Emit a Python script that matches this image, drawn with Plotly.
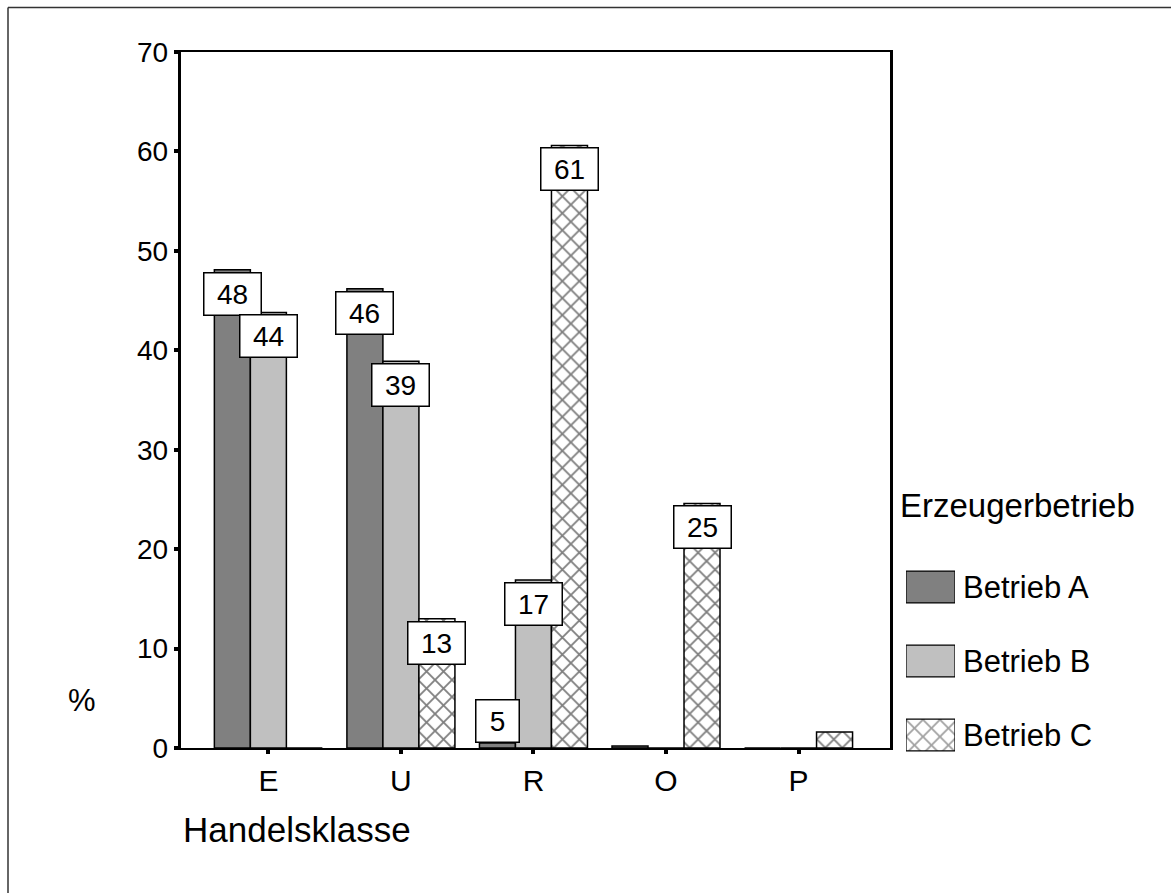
import plotly.graph_objects as go

# ---------------- data ----------------
categories = ["E", "U", "R", "O", "P"]
series_names = ["Betrieb A", "Betrieb B", "Betrieb C"]
betrieb_a = [48.1, 46.2, 0.5, 0.2, 0.0]
betrieb_b = [43.8, 38.9, 16.9, 0.0, 0.0]
betrieb_c = [0.0, 13.0, 60.6, 24.6, 1.6]
labels_a = ["48", "46", "5", "", ""]
labels_b = ["44", "39", "17", "", ""]
labels_c = ["", "13", "61", "25", ""]
y_ticks = [0, 10, 20, 30, 40, 50, 60, 70]

# ---------------- layout geometry ----------------
W, H = 1171, 893
PX_L, PX_R = 180.5, 890.0      # plot area left/right (px)
PX_T, PX_B = 52.0, 748.0       # plot area top/bottom (px)
Y_MAX = 70
X_RANGE = [-0.663, 4.69]
BARGAP = 0.185

FONT = "Arial, 'Liberation Sans', sans-serif"
DARK = "#808080"
LIGHT = "#c0c0c0"

values = [betrieb_a, betrieb_b, betrieb_c]
labels = [labels_a, labels_b, labels_c]
colors = [DARK, LIGHT, "white"]
patterns = ["", "", "x"]
PAT_SIZE, PAT_SOL = 12, 0.28

fig = go.Figure()
for name, vals, col, pat in zip(series_names, values, colors, patterns):
    fig.add_trace(go.Bar(
        x=categories, y=vals, name=name,
        marker=dict(color=col, line=dict(color="black", width=1.5),
                    pattern=dict(shape=pat, fgcolor="black", bgcolor=col,
                                 size=PAT_SIZE, solidity=PAT_SOL)),
        showlegend=False, hoverinfo="skip",
    ))

# value label boxes
px_per_unit = (PX_B - PX_T) / Y_MAX
bar_w = (1 - BARGAP) / 3
BOX_H = 44
for j, (vals, labs) in enumerate(zip(values, labels)):
    for i, (v, t) in enumerate(zip(vals, labs)):
        if not t:
            continue
        fits = v * px_per_unit >= BOX_H
        fig.add_annotation(
            x=i + (j - 1) * bar_w, y=v, xref="x", yref="y",
            text=t, showarrow=False,
            xanchor="center", yanchor="top" if fits else "bottom",
            yshift=-2 if fits else 0,
            width=56 if len(t) > 1 else 42, height=BOX_H - 3,
            bgcolor="white", bordercolor="black", borderwidth=1.5, borderpad=0,
            font=dict(family=FONT, size=28, color="black"),
        )

# legend swatches drawn as bars on a hidden axis
fig.add_trace(go.Bar(
    x=[1, 1, 1], y=series_names, orientation="h", width=0.43,
    xaxis="x2", yaxis="y2",
    marker=dict(color=colors, line=dict(color="black", width=1.2),
                pattern=dict(shape=patterns, fgcolor="black", bgcolor=colors,
                             size=PAT_SIZE, solidity=PAT_SOL)),
    showlegend=False, hoverinfo="skip",
))

LEG_Y0, LEG_Y1 = 550, 772
for k, name in enumerate(series_names):
    yc = LEG_Y0 + (k + 0.5) * (LEG_Y1 - LEG_Y0) / 3
    fig.add_annotation(x=961 / W, y=1 - yc / H, xref="paper", yref="paper",
                       text=name, showarrow=False, xanchor="left", yanchor="middle",
                       font=dict(family=FONT, size=31, color="black"))
fig.add_annotation(x=898 / W, y=1 - 505 / H, xref="paper", yref="paper",
                   text="Erzeugerbetrieb", showarrow=False, xanchor="left", yanchor="middle",
                   font=dict(family=FONT, size=33, color="black"))

# axis titles
fig.add_annotation(x=82 / W, y=1 - 700 / H, xref="paper", yref="paper",
                   text="%", showarrow=False, xanchor="center", yanchor="middle",
                   font=dict(family=FONT, size=31, color="black"))
fig.add_annotation(x=181 / W, y=1 - 829 / H, xref="paper", yref="paper",
                   text="Handelsklasse", showarrow=False, xanchor="left", yanchor="middle",
                   font=dict(family=FONT, size=35, color="black"))

# outer frame (top and left edges)
fig.add_shape(type="line", xref="paper", yref="paper",
              x0=8 / W, x1=1, y0=1 - 7.5 / H, y1=1 - 7.5 / H,
              line=dict(color="#333333", width=1.5))
fig.add_shape(type="line", xref="paper", yref="paper",
              x0=8 / W, x1=8 / W, y0=0, y1=1 - 7.5 / H,
              line=dict(color="#333333", width=1.5))

fig.update_layout(
    width=W, height=H, autosize=False,
    margin=dict(l=0, r=0, t=0, b=0),
    paper_bgcolor="white", plot_bgcolor="white",
    barmode="group", bargap=BARGAP, bargroupgap=0,
    font=dict(family=FONT, color="black"),
    xaxis=dict(
        domain=[PX_L / W, PX_R / W], range=X_RANGE, type="category",
        categoryorder="array", categoryarray=categories,
        showline=True, linecolor="black", linewidth=2, mirror=True,
        ticks="outside", ticklen=4, tickwidth=4, tickcolor="black",
        tickfont=dict(family=FONT, size=30, color="black"),
        ticklabelstandoff=1, showgrid=False, zeroline=False, automargin=False,
    ),
    yaxis=dict(
        domain=[1 - PX_B / H, 1 - PX_T / H], range=[0, Y_MAX],
        tickvals=y_ticks, ticktext=[str(t) for t in y_ticks],
        showline=True, linecolor="black", linewidth=2.5, mirror=True,
        ticks="outside", ticklen=4, tickwidth=4, tickcolor="black",
        tickfont=dict(family=FONT, size=28, color="black"),
        ticklabelstandoff=0, showgrid=False, zeroline=False, automargin=False,
    ),
    xaxis2=dict(domain=[906 / W, 955 / W], range=[0, 1], visible=False,
                anchor="y2", fixedrange=True),
    yaxis2=dict(domain=[1 - LEG_Y1 / H, 1 - LEG_Y0 / H], range=[2.5, -0.5],
                type="category", categoryorder="array", categoryarray=series_names,
                visible=False, anchor="x2", fixedrange=True),
)

fig.write_html("out.html")
